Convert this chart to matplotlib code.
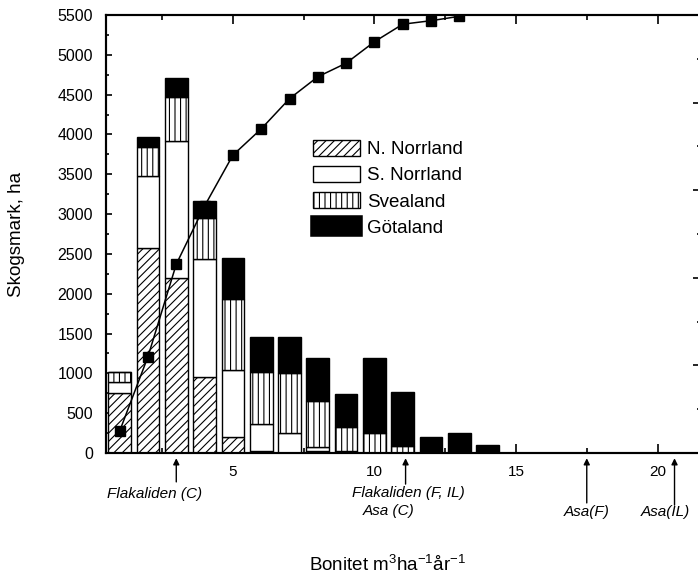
import matplotlib
matplotlib.use('Agg')
import matplotlib.pyplot as plt
from matplotlib.patches import Patch
from matplotlib.ticker import MultipleLocator

plt.rcParams['font.family'] = ['Liberation Sans', 'DejaVu Sans']
plt.rcParams['mathtext.fontset'] = 'custom'
plt.rcParams['mathtext.rm'] = 'Liberation Sans'
plt.rcParams['mathtext.it'] = 'Liberation Sans:italic'
plt.rcParams['hatch.linewidth'] = 0.8

# Forest area (ha) per site-index class, by region
bonitet = [1, 2, 3, 4, 5, 6, 7, 8, 9, 10, 11, 12, 13, 14]
n_norrland = [750, 2570, 2200, 960, 205, 25, 5, 20, 0, 0, 0, 0, 0, 0]
s_norrland = [145, 910, 1715, 1475, 837, 335, 242, 60, 20, 0, 0, 0, 0, 0]
svealand = [120, 365, 555, 515, 892, 661, 753, 577, 310, 245, 88, 0, 0, 0]
gotaland = [0, 125, 240, 215, 519, 440, 453, 532, 407, 944, 682, 197, 245, 97]

# Cumulative share of the total area, % (right axis)
cum_x = [1, 2, 3, 4, 5, 6, 7, 8, 9, 10, 11, 12, 13]
cum_pct = [5.0, 22.0, 43.1, 56.4, 68.0, 74.0, 80.9, 85.9, 89.0, 93.9, 97.9, 98.7, 99.7]

# Study sites marked below the axis
site_x = [3, 11.1, 17.5, 20.6]

fig = plt.figure(figsize=(6.98, 5.79), dpi=100)
ax = fig.add_axes([105.5 / 698, 126 / 579, 594.5 / 698, 438 / 579])

w = 0.8
bot1 = n_norrland
bot2 = [a + b for a, b in zip(bot1, s_norrland)]
bot3 = [a + b for a, b in zip(bot2, svealand)]
kw = dict(width=w, edgecolor='black', linewidth=1.0, zorder=2)
ax.bar(bonitet, n_norrland, facecolor='white', hatch='////', **kw)
ax.bar(bonitet, s_norrland, bottom=bot1, facecolor='white', **kw)
ax.bar(bonitet, svealand, bottom=bot2, facecolor='white', hatch='|||', **kw)
ax.bar(bonitet, gotaland, bottom=bot3, facecolor='black', **kw)

ax.set_xlim(0.5, 21.5)
ax.set_ylim(0, 5500)
ax.xaxis.set_major_locator(MultipleLocator(5))
ax.xaxis.set_minor_locator(MultipleLocator(2.5))
ax.yaxis.set_major_locator(MultipleLocator(500))
ax.yaxis.set_minor_locator(MultipleLocator(250))
ax.tick_params(axis='x', which='major', direction='in', length=6.5, width=1.2,
               top=True, labelsize=11, pad=9)
ax.tick_params(axis='x', which='minor', direction='in', length=3.5, width=1.2, top=True)
ax.tick_params(axis='y', which='major', direction='in', length=4.5, width=1.2,
               right=False, labelsize=11.5, pad=9)
ax.tick_params(axis='y', which='minor', direction='in', length=2.5, width=1.2, right=False)
for s in ax.spines.values():
    s.set_linewidth(1.5)

handles = [
    Patch(facecolor='white', edgecolor='black', hatch='////', linewidth=1.0),
    Patch(facecolor='white', edgecolor='black', linewidth=1.0),
    Patch(facecolor='white', edgecolor='black', hatch='|||', linewidth=1.0),
    Patch(facecolor='black', edgecolor='black', linewidth=4.0),
]
labels = ['N. Norrland', 'S. Norrland', 'Svealand', 'Götaland']
ax.legend(handles, labels, loc='upper left', bbox_to_anchor=(0.3485, 0.7146),
          frameon=False, fontsize=13.5, borderpad=0, borderaxespad=0,
          handlelength=2.5, handleheight=0.9, handletextpad=0.4, labelspacing=0.42)

# cumulative curve on a 0-100 % right axis
ax2 = ax.twinx()
ax2.plot(cum_x, cum_pct, color='black', linewidth=1.1, marker='s',
         markersize=6.5, markerfacecolor='black', zorder=3)
ax2.set_ylim(0, 100)
ax2.yaxis.set_major_locator(MultipleLocator(20))
ax2.yaxis.set_minor_locator(MultipleLocator(10))
ax2.tick_params(axis='y', which='major', direction='in', length=5, width=1.2, labelright=False)
ax2.tick_params(axis='y', which='minor', direction='in', length=2.5, width=1.2)
for s in ax2.spines.values():
    s.set_linewidth(1.5)

# site arrows and names under the x axis
tr = ax.get_xaxis_transform()
arrow_base = [-0.066, -0.071, -0.114, -0.119]
for xs, yb in zip(site_x, arrow_base):
    ax.annotate('', xy=(xs, -0.012), xytext=(xs, yb), xycoords=tr, textcoords=tr,
                arrowprops=dict(arrowstyle='-|>', color='black', lw=1.0,
                                mutation_scale=9, shrinkA=0, shrinkB=0))

tkw = dict(transform=tr, ha='center', va='center', fontsize=11, style='italic')
ax.text(2.25, -0.0936, 'Flakaliden (C)', **tkw)
ax.text(11.19, -0.092, 'Flakaliden (F, IL)', **tkw)
ax.text(10.51, -0.1324, 'Asa (C)', **tkw)
ax.text(17.48, -0.134, 'Asa(F)', **tkw)
ax.text(20.28, -0.134, 'Asa(IL)', **tkw)

fig.text(387 / 698, 1 - 565 / 579, 'Bonitet m$^{3}$ha$^{-1}$år$^{-1}$',
         ha='center', va='center', fontsize=13.5)
fig.text(17 / 698, 1 - 234 / 579, 'Skogsmark, ha', rotation=90,
         ha='center', va='center', fontsize=13.5)

plt.savefig('out.png', dpi=100)
plt.close('all')
